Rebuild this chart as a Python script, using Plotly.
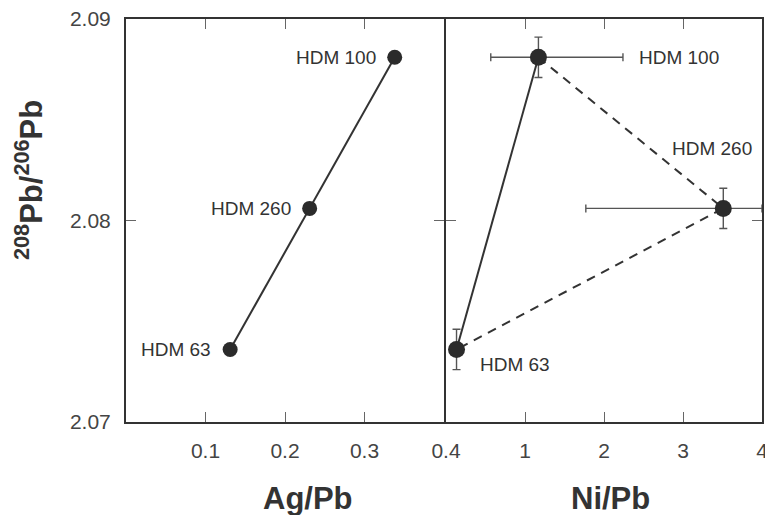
import numpy as np
import plotly.graph_objects as go

samples = ["HDM 63", "HDM 260", "HDM 100"]
pb_ratio = [2.0736, 2.0806, 2.0881]
pb_err = [0.001, 0.001, 0.001]
ag_pb = [0.131, 0.231, 0.338]
ni_pb = [0.48, 3.51, 1.17]
ni_pb_low = [0.48, 1.77, 0.74]
ni_pb_high = [0.48, 4.0, 2.24]

ni_ticks = [0.4, 1, 2, 3, 4]
ni_ticktext = ["0.4", "1", "2", "3", "4"]
ag_ticks = [0.1, 0.2, 0.3, 0.4]
ag_ticktext = ["0.1", "0.2", "0.3", ""]
y_ticks = [2.07, 2.08, 2.09]

# Ni/Pb axis of the original is drawn with equally spaced ticks 0.4,1,2,3,4
ni_index = list(range(len(ni_ticks)))
def ni_scale(v):
    return np.interp(v, ni_ticks, ni_index)

nx = ni_scale(ni_pb)
nlo = nx - ni_scale(ni_pb_low)
nhi = ni_scale(ni_pb_high) - nx

FONT = "Liberation Sans, Arial, sans-serif"
DARK = "#2b2b2b"
LINE = "#333333"

fig = go.Figure()

# Left panel
fig.add_trace(go.Scatter(x=ag_pb, y=pb_ratio, mode="lines+markers",
                         line=dict(color=LINE, width=2),
                         marker=dict(size=15, color=DARK),
                         xaxis="x", yaxis="y", showlegend=False))

i63, i260, i100 = 0, 1, 2
fig.add_trace(go.Scatter(x=[nx[i63], nx[i100]], y=[pb_ratio[i63], pb_ratio[i100]],
                         mode="lines", line=dict(color=LINE, width=2),
                         xaxis="x2", yaxis="y2", showlegend=False))
fig.add_trace(go.Scatter(x=[nx[i100], nx[i260], nx[i63]],
                         y=[pb_ratio[i100], pb_ratio[i260], pb_ratio[i63]],
                         mode="lines", line=dict(color=LINE, width=2, dash="9px,7px"),
                         xaxis="x2", yaxis="y2", showlegend=False))
fig.add_trace(go.Scatter(x=nx, y=pb_ratio, mode="markers",
                         marker=dict(size=17, color=DARK),
                         error_x=dict(type="data", symmetric=False, array=nhi, arrayminus=nlo,
                                      color="#555555", thickness=1.4, width=4),
                         error_y=dict(type="data", array=pb_err, color="#555555",
                                      thickness=1.4, width=4),
                         xaxis="x2", yaxis="y2", showlegend=False))

ann = []
lab_font = dict(family=FONT, size=19, color="#333333")
for xv, yv, t in zip(ag_pb, pb_ratio, samples):
    ann.append(dict(x=xv, y=yv, xref="x", yref="y", text=t, showarrow=False,
                    xanchor="right", yanchor="middle", xshift=-17, font=lab_font))
ann.append(dict(x=nx[i100], y=pb_ratio[i100], xref="x2", yref="y2", text="HDM 100",
                showarrow=False, xanchor="left", yanchor="middle", xshift=99, font=lab_font))
ann.append(dict(x=nx[i260], y=pb_ratio[i260], xref="x2", yref="y2", text="HDM 260",
                showarrow=False, xanchor="left", yanchor="middle", xshift=-53, yshift=60, font=lab_font))
ann.append(dict(x=nx[i63], y=pb_ratio[i63], xref="x2", yref="y2", text="HDM 63",
                showarrow=False, xanchor="left", yanchor="middle", xshift=21, yshift=-15, font=lab_font))
title_font = dict(family=FONT, size=31, color="#333333")
ann.append(dict(x=(308 - 126) / 636, y=-0.19, xref="paper", yref="paper", text="<b>Ag/Pb</b>",
                showarrow=False, xanchor="center", yanchor="middle", font=title_font))
ann.append(dict(x=(610 - 126) / 636, y=-0.19, xref="paper", yref="paper", text="<b>Ni/Pb</b>",
                showarrow=False, xanchor="center", yanchor="middle", font=title_font))
ann.append(dict(x=(29 - 126) / 636, y=(422 - 180) / 403, xref="paper", yref="paper",
                text="<b><sup>208</sup>Pb/<sup>206</sup>Pb</b>", textangle=-90,
                showarrow=False, xanchor="center", yanchor="middle", font=title_font))

split = 318 / 636
gap = 2 / 636
tickfont = dict(family=FONT, size=21, color="#444444")
axis_common = dict(showgrid=False, zeroline=False, showline=True, linecolor="#333333",
                   linewidth=2, mirror="ticks", ticks="inside", ticklen=10,
                   tickcolor="#666666", tickwidth=1, tickfont=tickfont, automargin=False,
                   ticklabeloverflow="allow")

fig.update_layout(
    width=765, height=515,
    margin=dict(l=126, r=3, t=19, b=93),
    paper_bgcolor="white", plot_bgcolor="white",
    xaxis=dict(domain=[0, split], range=[0, 0.4], tickvals=ag_ticks,
               ticktext=ag_ticktext, anchor="y", ticklabelstandoff=9,
               **axis_common),
    yaxis=dict(domain=[0, 1], range=[2.07, 2.09], tickvals=y_ticks,
               ticktext=["2.07", "2.08", "2.09"], anchor="x", ticklabelstandoff=9,
               **axis_common),
    xaxis2=dict(domain=[split + gap, 1], range=[0, 4], tickvals=ni_index, ticktext=ni_ticktext,
                anchor="y2", ticklabelstandoff=9, **axis_common),
    yaxis2=dict(domain=[0, 1], range=[2.07, 2.09], tickvals=y_ticks, showticklabels=False,
                anchor="x2", **axis_common),
    annotations=ann,
)

fig.write_html("out.html")
